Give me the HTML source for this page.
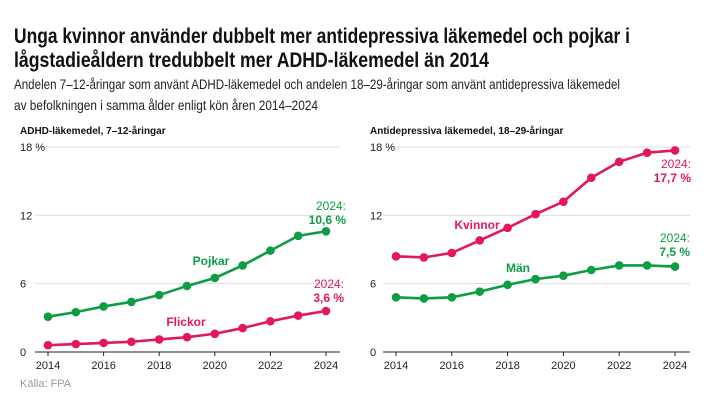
<!DOCTYPE html>
<html><head><meta charset="utf-8"><style>
body{margin:0;background:#fff;}
svg{display:block;font-family:"Liberation Sans",sans-serif;}
</style></head><body>
<svg id="c" width="720" height="405" viewBox="0 0 720 405">
<text x="14" y="43" font-size="21" font-weight="bold" fill="#111" textLength="616" lengthAdjust="spacingAndGlyphs">Unga kvinnor använder dubbelt mer antidepressiva läkemedel och pojkar i</text>
<text x="14" y="67" font-size="21" font-weight="bold" fill="#111" textLength="475" lengthAdjust="spacingAndGlyphs">lågstadieåldern tredubbelt mer ADHD-läkemedel än 2014</text>
<text x="14" y="89" font-size="14" fill="#222" textLength="606" lengthAdjust="spacingAndGlyphs">Andelen 7–12-åringar som använt ADHD-läkemedel och andelen 18–29-åringar som använt antidepressiva läkemedel</text>
<text x="14" y="110" font-size="14" fill="#222" textLength="304" lengthAdjust="spacingAndGlyphs">av befolkningen i samma ålder enligt kön åren 2014–2024</text>
<text x="20" y="134" font-size="10" font-weight="bold" fill="#111">ADHD-läkemedel, 7–12-åringar</text>
<text x="370" y="134" font-size="10" font-weight="bold" fill="#111">Antidepressiva läkemedel, 18–29-åringar</text>
<text x="20" y="387" font-size="11" fill="#999">Källa: FPA</text>
<g id="left"></g><g id="right"></g>
</svg>
<script>
const years=[2014,2015,2016,2017,2018,2019,2020,2021,2022,2023,2024];
const yTicks=[0,6,12,18];
const tickLabels=["0","6","12","18 %"];
const xTicks=[2014,2016,2018,2020,2022,2024];
const pojkar=[3.1,3.5,4.0,4.4,5.0,5.8,6.5,7.6,8.9,10.2,10.6];
const flickor=[0.6,0.7,0.8,0.9,1.1,1.3,1.6,2.1,2.7,3.2,3.6];
const kvinnor=[8.4,8.3,8.7,9.8,10.9,12.1,13.2,15.3,16.7,17.5,17.7];
const man=[4.8,4.7,4.8,5.3,5.9,6.4,6.7,7.2,7.6,7.6,7.5];
const GREEN="#0e9c45",PINK="#e3175f";
const NS="http://www.w3.org/2000/svg";
function mk(p,t,a,txt){const e=document.createElementNS(NS,t);for(const k in a)e.setAttribute(k,a[k]);if(txt!=null)e.textContent=txt;p.appendChild(e);return e;}
function panel(g,x0,x1,gl0,gl1,lab,series){
  const yS=v=>352-v*(205/18);
  const xS=y=>x0+(y-2014)*(x1-x0)/10;
  yTicks.forEach((t,i)=>{
    const l=mk(g,'line',{x1:i==0?gl0:gl0+ (i==3?lab+20-gl0:0),x2:gl1,y1:yS(t),y2:yS(t),stroke:i==0?'#222':'#ddd','stroke-width':1});
    
    
    const tx=mk(g,'text',{x:lab,y:yS(t)+4,'font-size':11,fill:'#222'},tickLabels[i]);
    
    
  });
  xTicks.forEach(y=>{
    const tk=mk(g,'line',{x1:xS(y),x2:xS(y),y1:352,y2:356,stroke:'#222'});
    
    
    const tx=mk(g,'text',{x:xS(y),y:369,'font-size':11,fill:'#222','text-anchor':'middle'},y);
    
    
  });
  series.forEach(s=>{
    const pl=mk(g,'polyline',{points:s.v.map((v,i)=>xS(years[i])+','+yS(v)).join(' '),fill:'none',stroke:s.c,'stroke-width':2.6});
    
    
    s.v.forEach((v,i)=>{
      const c=mk(g,'circle',{cx:xS(years[i]),cy:yS(v),r:4.3,fill:s.c});
      
      
    });
    const lb=mk(g,'text',{x:s.lx,y:s.ly,'font-size':12,'font-weight':'bold',fill:s.c,'text-anchor':'middle'},s.label);
    
    
    const last=s.v[s.v.length-1];
    const a1=mk(g,'text',{x:s.ax,y:s.ay,'font-size':12,fill:s.c,'text-anchor':'end'},'2024:');
    
    
    const a2=mk(g,'text',{x:s.ax,y:s.ay+14,'font-size':12,'font-weight':'bold',fill:s.c,'text-anchor':'end'},String(last).replace('.',',')+' %');
    
    
  });
}
panel(document.getElementById('left'),48,326,35,340,20,[
  {n:'pojkar',v:pojkar,c:GREEN,label:'Pojkar',lx:211,ly:265,ax:346,ay:210},
  {n:'flickor',v:flickor,c:PINK,label:'Flickor',lx:186,ly:326,ax:344,ay:288}
]);
panel(document.getElementById('right'),396,675,383,690,370,[
  {n:'kvinnor',v:kvinnor,c:PINK,label:'Kvinnor',lx:477,ly:229,ax:691,ay:168},
  {n:'man',v:man,c:GREEN,label:'Män',lx:518,ly:272,ax:690,ay:242}
]);
</script>
</body></html>
